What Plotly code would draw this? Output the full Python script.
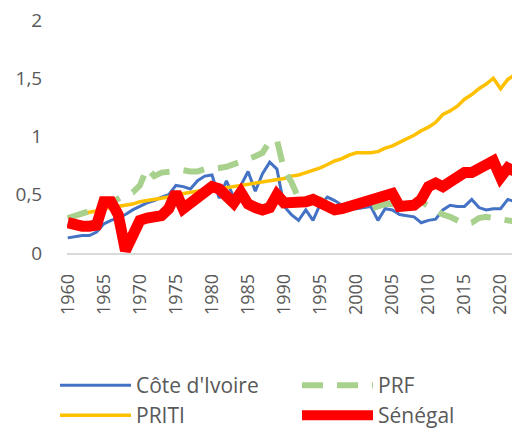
import plotly.graph_objects as go

years = list(range(1960, 2024))

cote_ivoire = [0.13, 0.14, 0.15, 0.15, 0.18, 0.25, 0.28, 0.30, 0.33, 0.37,
               0.40, 0.43, 0.45, 0.48, 0.50, 0.58, 0.57, 0.55, 0.62, 0.66,
               0.67, 0.47, 0.62, 0.48, 0.58, 0.70, 0.53, 0.68, 0.78, 0.72,
               0.40, 0.33, 0.28, 0.37, 0.28, 0.42, 0.48, 0.45, 0.41, 0.38,
               0.38, 0.39, 0.40, 0.28, 0.38, 0.37, 0.33, 0.32, 0.31, 0.26,
               0.28, 0.29, 0.37, 0.41, 0.40, 0.40, 0.46, 0.39, 0.37, 0.38,
               0.38, 0.46, 0.44, 0.42]

prf = [0.30, 0.32, 0.34, 0.35, 0.37, 0.40, 0.43, 0.47, 0.50, 0.52,
       0.58, 0.73, 0.66, 0.69, 0.70, 0.71, 0.71, 0.70, 0.70, 0.72,
       0.72, 0.73, 0.74, 0.76, 0.79, 0.81, 0.83, 0.86, 0.96, 0.97,
       0.71, 0.61, 0.47, 0.46, 0.47, 0.46, 0.42, 0.38, 0.38, 0.40,
       0.42, 0.41, 0.38, 0.40, 0.42, 0.42, 0.42, 0.41, 0.42, 0.44,
       0.40, 0.36, 0.33, 0.31, 0.28, 0.25, 0.26, 0.30, 0.31, 0.30,
       0.29, 0.27, 0.27, 0.26]

priti = [0.30, 0.31, 0.33, 0.35, 0.36, 0.38, 0.39, 0.40, 0.41, 0.42,
         0.44, 0.45, 0.46, 0.47, 0.48, 0.50, 0.51, 0.52, 0.53, 0.54,
         0.54, 0.55, 0.56, 0.57, 0.58, 0.59, 0.60, 0.61, 0.62, 0.63,
         0.64, 0.66, 0.67, 0.69, 0.71, 0.73, 0.76, 0.79, 0.81, 0.84,
         0.86, 0.86, 0.86, 0.87, 0.90, 0.92, 0.95, 0.98, 1.01, 1.05,
         1.08, 1.12, 1.19, 1.22, 1.26, 1.32, 1.36, 1.41, 1.45, 1.50,
         1.41, 1.49, 1.53, 1.60]

senegal = [0.26, 0.24, 0.23, 0.23, 0.24, 0.44, 0.44, 0.33, 0.02, 0.15,
           0.28, 0.30, 0.31, 0.32, 0.38, 0.52, 0.38, 0.43, 0.48, 0.52,
           0.57, 0.55, 0.49, 0.43, 0.52, 0.42, 0.39, 0.37, 0.39, 0.50,
           0.43, 0.43, 0.43, 0.44, 0.46, 0.43, 0.40, 0.37, 0.38, 0.40,
           0.42, 0.44, 0.45, 0.48, 0.50, 0.51, 0.40, 0.40, 0.41, 0.46,
           0.57, 0.60, 0.57, 0.61, 0.65, 0.69, 0.69, 0.72, 0.74, 0.79,
           0.65, 0.73, 0.70, 0.66]

y_tickvals = [0, 0.5, 1, 1.5, 2]
y_ticktext = ["0", "0,5", "1", "1,5", "2"]
x_tickvals = list(range(1960, 2021, 5))

FONT = "Open Sans"
GREY = "#595959"

fig = go.Figure()
fig.add_trace(go.Scatter(x=years, y=cote_ivoire, name="Côte d'Ivoire", mode="lines",
                         line=dict(color="#4472C4", width=3), legend="legend"))
fig.add_trace(go.Scatter(x=years, y=priti, name="PRITI", mode="lines",
                         line=dict(color="#FFC000", width=3.5), legend="legend3"))
fig.add_trace(go.Scatter(x=years, y=prf, name="PRF", mode="lines",
                         line=dict(color="#A9D18E", width=6, dash="21px,14px"), legend="legend2"))
fig.add_trace(go.Scatter(x=years, y=senegal, name="Sénégal", mode="lines",
                         line=dict(color="#FF0000", width=11), legend="legend4"))


def leg(x_px, y_px):
    return dict(x=x_px / 520, xref="container", xanchor="left",
                y=1 - y_px / 430, yref="container", yanchor="top",
                itemwidth=71, font=dict(family=FONT, size=21, color=GREY),
                bgcolor="rgba(0,0,0,0)")


fig.update_layout(
    width=520, height=430,
    margin=dict(l=59, r=0, t=12, b=185, autoexpand=False),
    paper_bgcolor="white", plot_bgcolor="white",
    font=dict(family=FONT, size=19, color=GREY),
    showlegend=True,
    legend=leg(47, 357),
    legend2=leg(289, 357),
    legend3=leg(47, 387),
    legend4=leg(289, 387),
    xaxis=dict(range=[1959.9, 2023.8], tickvals=x_tickvals, tickangle=-90,
               showgrid=False, zeroline=False, showline=True, linecolor="#D9D9D9",
               linewidth=1.5, ticks="outside", ticklen=12, tickcolor="rgba(0,0,0,0)",
               tickfont=dict(family=FONT, size=18, color=GREY), automargin=False,
               ticklabeloverflow="allow"),
    yaxis=dict(range=[0, 2], tickvals=y_tickvals, ticktext=y_ticktext,
               showgrid=False, zeroline=False, showline=False,
               ticks="outside", ticklen=20, tickcolor="rgba(0,0,0,0)",
               tickfont=dict(family=FONT, size=19, color=GREY), automargin=False,
               ticklabeloverflow="allow"),
)

fig.write_html("out.html")
